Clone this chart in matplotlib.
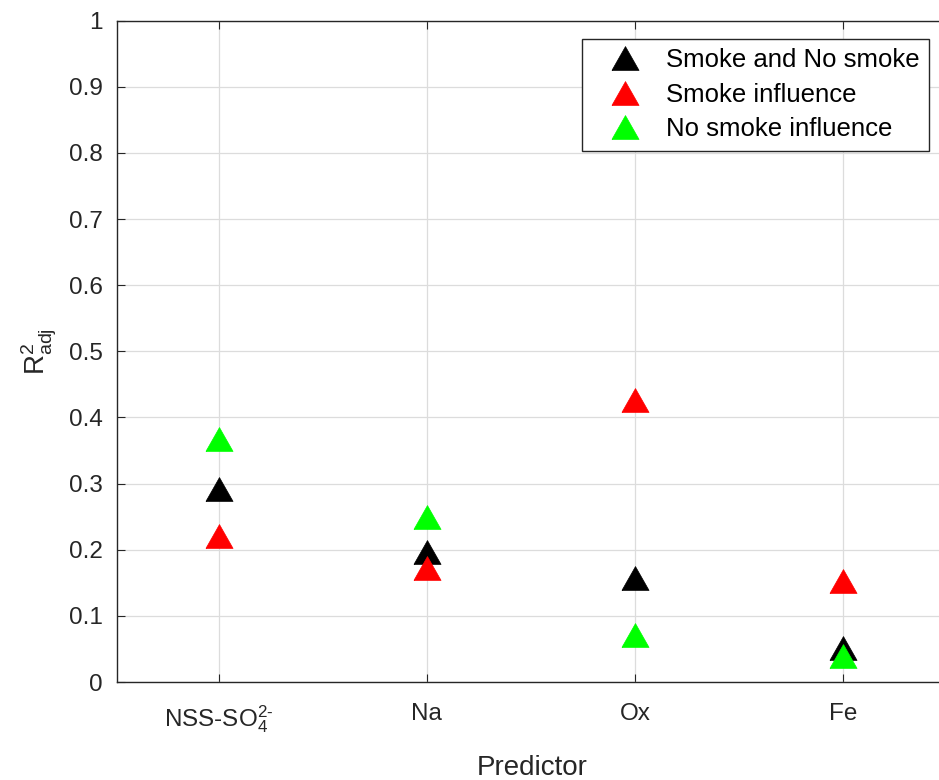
import matplotlib
matplotlib.use("Agg")
import matplotlib.pyplot as plt
import numpy as np

plt.rcParams["font.family"] = ["Liberation Sans", "DejaVu Sans"]
plt.rcParams["mathtext.fontset"] = "custom"
plt.rcParams["mathtext.rm"] = "Liberation Sans"
plt.rcParams["mathtext.it"] = "Liberation Sans"

# 데이터
predictors = [r"NSS-SO$_4^{2\text{-}}$", "Na", "Ox", "Fe"]
both = [0.292, 0.196, 0.157, 0.051]        # Smoke and No smoke
smoke = [0.221, 0.173, 0.426, 0.152]       # Smoke influence
no_smoke = [0.367, 0.249, 0.071, 0.040]    # No smoke influence
series_labels = ["Smoke and No smoke", "Smoke influence", "No smoke influence"]
series_colors = ["black", "red", "#00ff00"]

GRAY = "#262626"
tri = [(-1, -0.88), (1, -0.88), (0, 0.88), (-1, -0.88)]

fig = plt.figure(figsize=(9.39, 7.8), dpi=100)
ax = fig.add_axes([0.1241, 0.1256, 0.8847, 0.848])

x = np.arange(1, len(predictors) + 1)
for vals, lab, col in zip([both, smoke, no_smoke], series_labels, series_colors):
    ax.plot(x, vals, linestyle="none", marker=tri, markersize=19.5,
            markerfacecolor=col, markeredgecolor=col, markeredgewidth=0.5,
            label=lab, zorder=3)

ax.set_xlim(0.51, 4.5)
ax.set_ylim(0, 1)
ax.set_xticks(x)
ax.set_xticklabels(predictors)
ax.set_yticks(np.arange(0, 1.01, 0.1))
ax.set_yticklabels(["0"] + [f"{v:.1f}" for v in np.arange(0.1, 0.95, 0.1)] + ["1"])

ax.grid(True, color="#dcdcdc", linewidth=0.9)
ax.set_axisbelow(True)
for s in ax.spines.values():
    s.set_color(GRAY)
    s.set_linewidth(1.0)
ax.tick_params(direction="in", length=6, width=0.8, color=GRAY,
               labelcolor=GRAY, labelsize=17.5, top=True, right=True)
ax.tick_params(axis="x", pad=15)
ax.tick_params(axis="y", pad=10)

ax.set_xlabel("Predictor", fontsize=20, color=GRAY, labelpad=15)
ax.set_ylabel(r"R$^2_{\mathregular{adj}}$", fontsize=20, color=GRAY, labelpad=7)

leg = ax.legend(loc="upper right", bbox_to_anchor=(928.5 / 939, 1 - 39 / 780),
                bbox_transform=fig.transFigure, fontsize=18.5, frameon=True,
                fancybox=False, framealpha=1, edgecolor=GRAY, handlelength=2.6,
                handletextpad=0.3, labelspacing=0.41, borderpad=0.36,
                borderaxespad=0, markerscale=1)
leg.get_frame().set_linewidth(1.0)
for t in leg.get_texts():
    t.set_color("black")

fig.savefig("out.png", dpi=100, facecolor="white")
